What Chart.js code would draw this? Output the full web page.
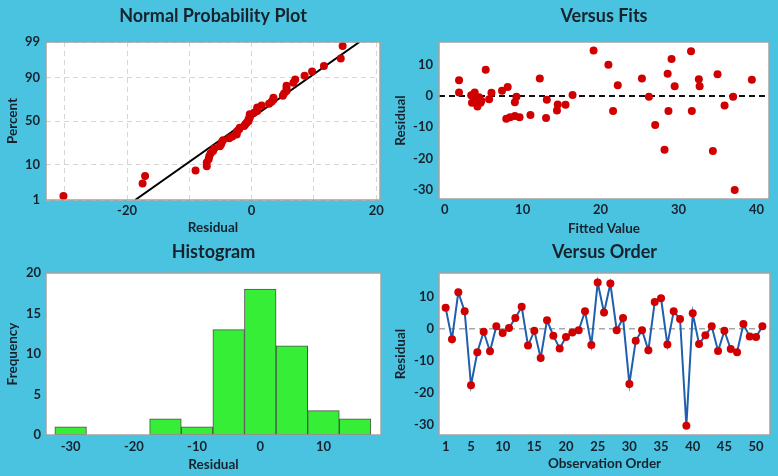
<!DOCTYPE html>
<html>
<head>
<meta charset="utf-8">
<script src="https://cdn.jsdelivr.net/npm/chart.js@4.4.1/dist/chart.umd.min.js"></script>
<style>
  html, body { margin: 0; padding: 0; }
  body { width: 778px; height: 476px; background: #4ac3e1; position: relative; overflow: hidden; }
  canvas { position: absolute; }
</style>
</head>
<body>
<canvas id="normal-chart" width="389" height="238" style="left:0;top:0"></canvas>
<canvas id="fits-chart" width="389" height="238" style="left:389px;top:0"></canvas>
<canvas id="hist-chart" width="389" height="238" style="left:0;top:238px"></canvas>
<canvas id="order-chart" width="389" height="238" style="left:389px;top:238px"></canvas>
<script>
// Normal probability plot (sorted residuals, percent)
const normalResiduals = [
  -30.2, -17.5, -17.1, -9.0, -7.2, -7.2, -6.9, -6.8, -6.6, -6.2,
  -6.0, -5.1, -4.9, -4.8, -4.6, -3.6, -3.1, -2.4, -2.4, -2.3,
  -2.0, -1.9, -1.2, -1.0, -0.8, -0.5, -0.5, -0.3, -0.3, -0.3,
  0.4, 0.9, 0.9, 0.9, 1.6, 2.8, 3.2, 3.5, 3.5, 5.0,
  5.2, 5.6, 5.6, 5.6, 6.7, 7.0, 8.5, 9.7, 11.6, 14.3, 14.6,
];
const normalPercents = [
  1.36, 3.31, 5.25, 7.20, 9.14, 11.09, 13.04, 14.98, 16.93, 18.87,
  20.82, 22.76, 24.71, 26.65, 28.60, 30.54, 32.49, 34.44, 36.38, 38.33,
  40.27, 42.22, 44.16, 46.11, 48.05, 50.00, 51.95, 53.89, 55.84, 57.78,
  59.73, 61.67, 63.62, 65.56, 67.51, 69.46, 71.40, 73.35, 75.29, 77.24,
  79.18, 81.13, 83.07, 85.02, 86.96, 88.91, 90.86, 92.80, 94.75, 96.69, 98.64,
];
const fitLineResiduals = [-18.7, 17.3];
const fitLinePercents = [1, 99];
const percentTicks = [1, 10, 50, 90, 99];
const normalGridX = [-30, -20, -10, 0, 10, 20];
const normalLabelX = [-20, 0, 20];

// Versus fits
const fittedValues = [
  1.84, 1.84, 3.4, 3.85, 4.4, 4.7, 3.5, 4.2, 4.6, 3.85,
  5.26, 5.7, 6.0, 7.35, 8.08, 7.9, 8.4, 9.0, 9.0, 9.2,
  9.6, 11.0, 12.2, 13.0, 13.1, 14.4, 14.5, 15.5, 16.4, 19.1,
  21.0, 21.6, 22.2, 25.3, 26.2, 27.0, 28.2, 28.6, 28.7, 29.1,
  29.5, 31.6, 31.7, 32.6, 32.7, 34.4, 35.0, 35.9, 37.0, 37.2, 39.4,
];
const fitsResiduals = [
  5.1, 1.2, 0.3, 1.2, -0.4, -1.5, -2.1, -3.3, -2.1, -1.1,
  8.5, -1.0, 1.1, 1.7, 2.9, -7.3, -6.8, -6.4, -2.0, -0.2,
  -6.8, -6.1, 5.7, -7.0, -1.2, -4.6, -2.7, -2.8, 0.4, 14.7,
  10.1, -4.8, 3.5, 5.7, -0.2, -9.3, -17.2, 7.2, -4.8, 11.9,
  3.2, 14.4, -4.8, 5.4, 3.2, -17.6, 7.0, -3.0, -0.2, -30.2, 5.3,
];
const fitsTicksX = [0, 10, 20, 30, 40];
const residualTicks = [-30, -20, -10, 0, 10];

// Histogram
const binCenters = [-30, -25, -20, -15, -10, -5, 0, 5, 10, 15];
const binCounts = [1, 0, 0, 2, 1, 13, 18, 11, 3, 2];
const histTicksX = [-30, -20, -10, 0, 10];
const histTicksY = [0, 5, 10, 15, 20];

// Versus order
const observations = [
  1, 2, 3, 4, 5, 6, 7, 8, 9, 10, 11, 12, 13, 14, 15, 16, 17,
  18, 19, 20, 21, 22, 23, 24, 25, 26, 27, 28, 29, 30, 31, 32, 33, 34,
  35, 36, 37, 38, 39, 40, 41, 42, 43, 44, 45, 46, 47, 48, 49, 50, 51,
];
const orderResiduals = [
  6.7, -3.1, 11.6, 5.6, -17.5, -7.2, -0.8, -6.9, 0.9, -1.2,
  0.4, 3.5, 7.0, -5.1, -0.5, -9.0, 2.8, -2.0, -6.0, -2.4,
  -1.0, -0.3, 5.6, -4.9, 14.6, 5.2, 14.3, -0.3, 3.5, -17.1,
  -3.6, -0.3, -6.6, 8.5, 9.7, -4.8, 5.6, 3.2, -30.2, 5.0,
  -4.6, -1.9, 0.9, -6.8, -0.5, -6.2, -7.2, 1.6, -2.3, -2.4, 0.9,
];
const orderTicksX = [1, 5, 10, 15, 20, 25, 30, 35, 40, 45, 50];

const textColor = "#17222c";
const markerRed = "#d10000";
const fontFamily = "Lato, 'Open Sans', sans-serif";
const tickFont = { family: fontFamily, size: 13, weight: "bold" };
const axisTitleFont = { family: fontFamily, size: 13.5, weight: "bold" };
const titleFont = { family: fontFamily, size: 18, weight: "bold" };

// inverse normal cdf (Acklam), used for the probability axis
function probit(percent) {
  const p = percent / 100;
  const a = [-39.69683028665376, 220.9460984245205, -275.9285104469687, 138.357751867269, -30.66479806614716, 2.506628277459239];
  const b = [-54.47609879822406, 161.5858368580409, -155.6989798598866, 66.80131188771972, -13.28068155288572];
  const c = [-0.007784894002430293, -0.3223964580411365, -2.400758277161838, -2.549732539343734, 4.374664141464968, 2.938163982698783];
  const d = [0.007784695709041462, 0.3224671290700398, 2.445134137142996, 3.754408661907416];
  const tail = (q) =>
    (((((c[0] * q + c[1]) * q + c[2]) * q + c[3]) * q + c[4]) * q + c[5]) /
    ((((d[0] * q + d[1]) * q + d[2]) * q + d[3]) * q + 1);
  if (p < 0.02425) return tail(Math.sqrt(-2 * Math.log(p)));
  if (p > 0.97575) return -tail(Math.sqrt(-2 * Math.log(1 - p)));
  const q = p - 0.5;
  const r = q * q;
  return ((((((a[0] * r + a[1]) * r + a[2]) * r + a[3]) * r + a[4]) * r + a[5]) * q) /
    (((((b[0] * r + b[1]) * r + b[2]) * r + b[3]) * r + b[4]) * r + 1);
}

function toPoints(xs, ys) {
  return xs.map((x, i) => ({ x, y: ys[i] }));
}

const plotFrame = {
  id: "plotFrame",
  beforeDraw(chart) {
    const { ctx, chartArea: a } = chart;
    ctx.save();
    ctx.fillStyle = "#ffffff";
    ctx.fillRect(a.left, a.top, a.width, a.height);
    ctx.restore();
  },
  afterDraw(chart) {
    const { ctx, chartArea: a } = chart;
    ctx.save();
    ctx.strokeStyle = "#a3a3a3";
    ctx.lineWidth = 1.5;
    ctx.strokeRect(a.left, a.top, a.width, a.height);
    ctx.restore();
  },
};

function axis(cfg) {
  return {
    type: "linear",
    min: cfg.min,
    max: cfg.max,
    offset: false,
    border: { display: false, dash: cfg.dash || [] },
    grid: cfg.grid || { display: false, drawTicks: false, offset: false },
    ticks: {
      color: textColor,
      font: tickFont,
      padding: cfg.tickPad,
      callback: cfg.label || ((value) => value),
    },
    title: {
      display: true,
      text: cfg.title,
      color: textColor,
      font: axisTitleFont,
      padding: cfg.titlePad,
    },
    afterBuildTicks: (scale) => {
      scale.ticks = cfg.ticks.map((value) => ({ value }));
    },
    afterFit: (scale) => {
      if (scale.isHorizontal()) scale.height = cfg.size;
      else scale.width = cfg.size;
    },
  };
}

function panelOptions(p) {
  return {
    responsive: false,
    animation: false,
    layout: { padding: { left: 0, right: p.padRight, top: 0, bottom: 0 } },
    plugins: {
      legend: { display: false },
      tooltip: { enabled: false },
      title: {
        display: true,
        text: p.title,
        fullSize: false,
        color: textColor,
        font: titleFont,
        padding: { top: p.titleTop, bottom: p.titleBottom },
      },
    },
    scales: { x: axis(p.x), y: axis(p.y) },
  };
}

const dashedGrid = { display: true, color: "#d6d6d6", lineWidth: 1, drawTicks: false };

new Chart(document.getElementById("normal-chart"), {
  type: "scatter",
  data: {
    datasets: [
      {
        data: toPoints(normalResiduals, normalPercents.map(probit)),
        pointRadius: 4,
        pointBackgroundColor: markerRed,
        pointBorderColor: markerRed,
        pointBorderWidth: 0,
        order: 1,
      },
      {
        type: "line",
        data: toPoints(fitLineResiduals, fitLinePercents.map(probit)),
        borderColor: "#000000",
        borderWidth: 2,
        pointRadius: 0,
        order: 2,
      },
    ],
  },
  options: panelOptions({
    title: "Normal Probability Plot",
    padRight: 9,
    titleTop: 5.2,
    titleBottom: 15.2,
    x: {
      min: -33, max: 20.6, ticks: normalGridX, size: 38, tickPad: 3.2,
      title: "Residual", titlePad: { top: 0, bottom: 1.9 },
      grid: dashedGrid, dash: [5, 4],
      label: (value) => (normalLabelX.includes(value) ? value : ""),
    },
    y: {
      min: probit(1), max: probit(99), ticks: percentTicks.map(probit), size: 46, tickPad: 6,
      title: "Percent", titlePad: { top: 4.9, bottom: 0 },
      grid: dashedGrid, dash: [5, 4],
      label: (value, index) => percentTicks[index],
    },
  }),
  plugins: [plotFrame],
});

new Chart(document.getElementById("fits-chart"), {
  type: "scatter",
  data: {
    datasets: [
      {
        data: toPoints(fittedValues, fitsResiduals),
        pointRadius: 4,
        pointBackgroundColor: markerRed,
        pointBorderColor: markerRed,
        pointBorderWidth: 0,
      },
    ],
  },
  options: panelOptions({
    title: "Versus Fits",
    padRight: 9,
    titleTop: 5.2,
    titleBottom: 15.2,
    x: {
      min: -0.73, max: 41.6, ticks: fitsTicksX, size: 39, tickPad: 3.2,
      title: "Fitted Value", titlePad: { top: 0, bottom: 0.9 },
    },
    y: {
      min: -33.07, max: 17.4, ticks: residualTicks, size: 50, tickPad: 6,
      title: "Residual", titlePad: { top: 3.9, bottom: 0 },
      dash: [6, 4],
      grid: {
        display: true,
        drawTicks: false,
        color: (ctx) => (ctx.tick && ctx.tick.value === 0 ? "#111111" : "rgba(0,0,0,0)"),
        lineWidth: 2,
      },
    },
  }),
  plugins: [plotFrame],
});

new Chart(document.getElementById("hist-chart"), {
  type: "bar",
  data: {
    datasets: [
      {
        data: toPoints(binCenters, binCounts),
        backgroundColor: "#36ee36",
        borderColor: "#4f4f4f",
        borderWidth: 1,
        borderSkipped: false,
        barPercentage: 1,
        categoryPercentage: 1,
      },
    ],
  },
  options: panelOptions({
    title: "Histogram",
    padRight: 8,
    titleTop: 3.2,
    titleBottom: 10.2,
    x: {
      min: -33.9, max: 19.1, ticks: histTicksX, size: 41, tickPad: 3.9,
      title: "Residual", titlePad: { top: 0, bottom: 3.6 },
    },
    y: {
      min: 0, max: 20, ticks: histTicksY, size: 46, tickPad: 5,
      title: "Frequency", titlePad: { top: 4.6, bottom: 0 },
    },
  }),
  plugins: [plotFrame],
});

new Chart(document.getElementById("order-chart"), {
  type: "line",
  data: {
    datasets: [
      {
        data: toPoints(observations, orderResiduals),
        borderColor: "#1f5fae",
        borderWidth: 2,
        tension: 0,
        pointRadius: 4,
        pointBackgroundColor: markerRed,
        pointBorderColor: markerRed,
        pointBorderWidth: 0,
      },
    ],
  },
  options: panelOptions({
    title: "Versus Order",
    padRight: 8,
    titleTop: 3.2,
    titleBottom: 10.2,
    x: {
      min: -0.05, max: 52.2, ticks: orderTicksX, size: 41, tickPad: 3.6,
      title: "Observation Order", titlePad: { top: 0, bottom: 3.9 },
    },
    y: {
      min: -33.1, max: 17.6, ticks: residualTicks, size: 50, tickPad: 5,
      title: "Residual", titlePad: { top: 3.9, bottom: 0 },
      dash: [6, 4],
      grid: {
        display: true,
        drawTicks: false,
        color: (ctx) => (ctx.tick && ctx.tick.value === 0 ? "#a8a8a8" : "rgba(0,0,0,0)"),
        lineWidth: 1.5,
      },
    },
  }),
  plugins: [plotFrame],
});
</script>
</body>
</html>
